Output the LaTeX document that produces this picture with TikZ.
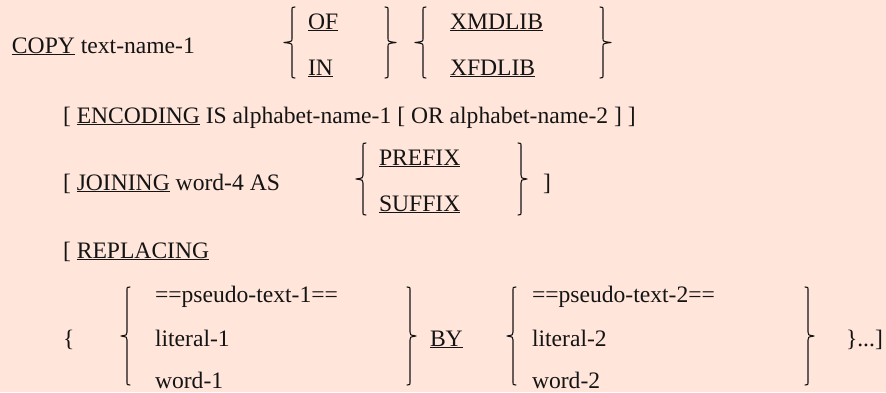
\documentclass[tikz,border=0pt]{standalone}
\usepackage{fontspec}
\setmainfont{Liberation Serif}
\definecolor{bgpeach}{RGB}{255,229,218}
\definecolor{ink}{RGB}{20,20,20}
\begin{document}
\begin{tikzpicture}[x=1pt,y=-1pt,
  txt/.style={anchor=base west,inner sep=0pt,outer sep=0pt,text=ink,font=\fontsize{23.6}{28}\selectfont},
  bracestroke/.style={draw=ink,line width=1.1pt,line cap=round,line join=round}]
\fill[bgpeach] (0,0) rectangle (886,392);
\useasboundingbox (0,0) rectangle (886,392);
% left brace: #1 x of vertical, #2 top, #3 bottom, #4 tip x
\newcommand{\lbr}[4]{%
  \draw[bracestroke] ({#1+3},#2) .. controls (#1,#2) .. (#1,{#2+4}) -- (#1,{(#2+#3)/2-4})
    .. controls (#1,{(#2+#3)/2-1}) .. (#4,{(#2+#3)/2})
    .. controls (#1,{(#2+#3)/2+1}) .. (#1,{(#2+#3)/2+4}) -- (#1,{#3-4})
    .. controls (#1,#3) .. ({#1+3},#3);}
\newcommand{\rbr}[4]{%
  \draw[bracestroke] ({#1-3},#2) .. controls (#1,#2) .. (#1,{#2+4}) -- (#1,{(#2+#3)/2-4})
    .. controls (#1,{(#2+#3)/2-1}) .. (#4,{(#2+#3)/2})
    .. controls (#1,{(#2+#3)/2+1}) .. (#1,{(#2+#3)/2+4}) -- (#1,{#3-4})
    .. controls (#1,#3) .. ({#1-3},#3);}
% line 1
\node[txt] (copy) at (12,53) {\underline{COPY} text-name-1};
\lbr{292}{7}{78}{284}
\node[txt] (of) at (308,29) {\underline{OF}};
\node[txt] (in) at (308,75) {\underline{IN}};
\rbr{388}{7}{78}{396}
\lbr{423}{7}{78}{415}
\node[txt] (xmd) at (450,29) {\underline{XMDLIB}};
\node[txt] (xfd) at (450,75) {\underline{XFDLIB}};
\rbr{603}{7}{78}{611}
% line 2
\node[txt] (enc) at (63,123) {[ \underline{ENCODING} IS alphabet-name-1 [ OR alphabet-name-2 ] ]};
% line 3
\node[txt] (join) at (63,190) {[ \underline{JOINING} word-4 AS};
\lbr{363}{143}{215}{356}
\node[txt] (pre) at (379,165) {\underline{PREFIX}};
\node[txt] (suf) at (379,211) {\underline{SUFFIX}};
\rbr{521}{143}{215}{527}
\node[txt] (jclose) at (543,190) {]};
% line 4
\node[txt] (rep) at (63,258) {[ \underline{REPLACING}};
% line 5
\node[txt] (open) at (63,346) {\{};
\lbr{127}{287}{385}{121}
\node[txt] (ps1) at (155,302) {==pseudo-text-1==};
\node[txt] (lit1) at (155,346) {literal-1};
\node[txt] (w1) at (155,388) {word-1};
\rbr{410}{287}{385}{416}
\node[txt] (by) at (430,346) {\underline{BY}};
\lbr{513}{287}{385}{507}
\node[txt] (ps2) at (532,302) {==pseudo-text-2==};
\node[txt] (lit2) at (532,346) {literal-2};
\node[txt] (w2) at (532,388) {word-2};
\rbr{808}{287}{385}{814}
\node[txt] (close) at (846,346) {\}...]};
\end{tikzpicture}
\end{document}
